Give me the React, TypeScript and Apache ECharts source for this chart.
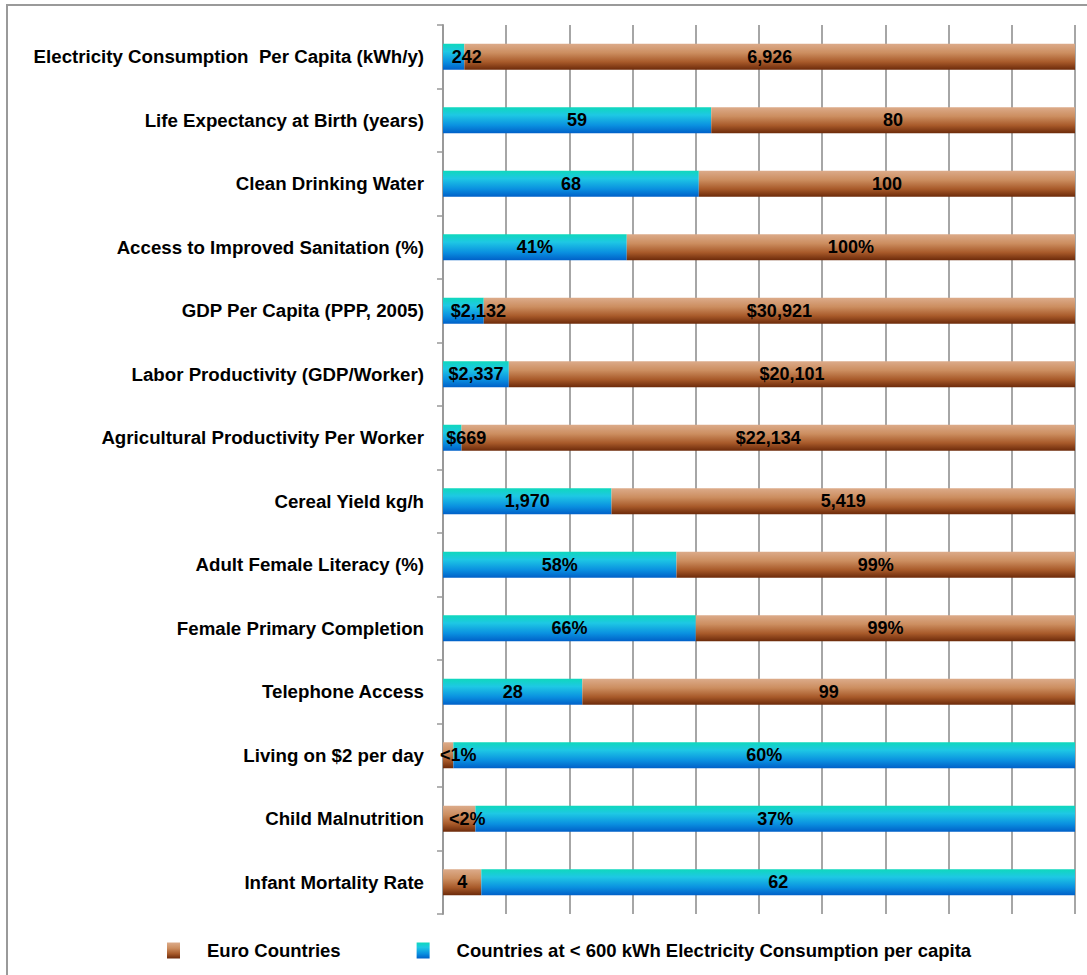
import React, { useEffect, useRef } from "react";
import * as echarts from "echarts";

const categories = [
  "Electricity Consumption  Per Capita (kWh/y)",
  "Life Expectancy at Birth (years)",
  "Clean Drinking Water",
  "Access to Improved Sanitation (%)",
  "GDP Per Capita (PPP, 2005)",
  "Labor Productivity (GDP/Worker)",
  "Agricultural Productivity Per Worker",
  "Cereal Yield kg/h",
  "Adult Female Literacy (%)",
  "Female Primary Completion",
  "Telephone Access",
  "Living on $2 per day",
  "Child Malnutrition",
  "Infant Mortality Rate",
];

// Countries at < 600 kWh electricity consumption per capita
const lowValues = [242, 59, 68, 41, 2132, 2337, 669, 1970, 58, 66, 28, 60, 37, 62];
const lowLabels = ["242", "59", "68", "41%", "$2,132", "$2,337", "$669", "1,970", "58%", "66%", "28", "60%", "37%", "62"];

// Euro countries
const euroValues = [6926, 80, 100, 100, 30921, 20101, 22134, 5419, 99, 99, 99, 1, 2, 4];
const euroLabels = ["6,926", "80", "100", "100%", "$30,921", "$20,101", "$22,134", "5,419", "99%", "99%", "99", "<1%", "<2%", "4"];

// rows where the Euro segment is drawn first (left)
const euroOnLeft = [false, false, false, false, false, false, false, false, false, false, false, true, true, true];

const lowName = "Countries at < 600 kWh Electricity Consumption per capita";
const euroName = "Euro Countries";

// horizontal label nudges (px) for labels in narrow segments
const lowLabelNudge: Record<number, number> = { 0: 13, 4: 15, 6: 14 };
const euroLabelNudge: Record<number, number> = { 11: 10, 12: 8 };

const FONT = "'Liberation Sans', Arial, sans-serif";

const blueGrad = () =>
  new echarts.graphic.LinearGradient(0, 0, 0, 1, [
    { offset: 0, color: "#0fd8bc" },
    { offset: 0.3, color: "#1ec8e4" },
    { offset: 0.7, color: "#0a90e0" },
    { offset: 1, color: "#0060c8" },
  ]);
const brownGrad = () =>
  new echarts.graphic.LinearGradient(0, 0, 0, 1, [
    { offset: 0, color: "#dcab8a" },
    { offset: 0.35, color: "#cc8e60" },
    { offset: 0.7, color: "#a85a2a" },
    { offset: 1, color: "#6c2a0a" },
  ]);

export default function App() {
  const ref = useRef<HTMLDivElement>(null);
  useEffect(() => {
    document.body.style.margin = "0";
    if (!ref.current) return;
    const chart = echarts.init(ref.current, null, { renderer: "svg" });

    const pct = (i: number, v: number) => (v / (lowValues[i] + euroValues[i])) * 100;
    const labelStyle = {
      show: true,
      position: "inside",
      color: "#000",
      fontFamily: FONT,
      fontWeight: "bold",
      fontSize: 18,
    };

    const euroLeftData = categories.map((_, i) =>
      euroOnLeft[i]
        ? {
            value: pct(i, euroValues[i]),
            label: { ...labelStyle, formatter: euroLabels[i], offset: [euroLabelNudge[i] || 0, 0] },
          }
        : { value: 0, label: { show: false } }
    );
    const lowData = categories.map((_, i) => ({
      value: pct(i, lowValues[i]),
      label: { ...labelStyle, formatter: lowLabels[i], offset: [lowLabelNudge[i] || 0, 0] },
    }));
    const euroRightData = categories.map((_, i) =>
      !euroOnLeft[i]
        ? {
            value: pct(i, euroValues[i]),
            label: { ...labelStyle, formatter: euroLabels[i], offset: [euroLabelNudge[i] || 0, 0] },
          }
        : { value: 0, label: { show: false } }
    );

    chart.setOption({
      animation: false,
      grid: { left: 443, right: 12, top: 25, bottom: 61, containLabel: false },
      graphic: [
        {
          type: "rect",
          shape: { x: 7, y: 5, width: 1200, height: 1200 },
          style: { fill: "none", stroke: "#9a9a9a", lineWidth: 2 },
          silent: true,
        },
      ],
      legend: {
        left: 162,
        top: 936,
        itemWidth: 13,
        itemHeight: 16,
        itemGap: 76,
        icon: "rect",
        data: [euroName, lowName],
        textStyle: {
          color: "#000",
          fontFamily: FONT,
          fontWeight: "bold",
          fontSize: 18.5,
          padding: [0, 0, 0, 22],
        },
      },
      xAxis: {
        type: "value",
        min: 0,
        max: 100,
        interval: 10,
        axisLine: { show: false },
        axisTick: { show: false },
        axisLabel: { show: false },
        splitLine: { show: true, lineStyle: { color: "#a6a6a6", width: 2 } },
      },
      yAxis: {
        type: "category",
        inverse: true,
        data: categories,
        axisLine: { show: true, lineStyle: { color: "#999", width: 2 } },
        axisTick: { show: true, length: 6, lineStyle: { color: "#999", width: 1.5 } },
        axisLabel: {
          color: "#000",
          fontFamily: FONT,
          fontWeight: "bold",
          fontSize: 18.7,
          margin: 19,
        },
      },
      series: [
        {
          name: euroName,
          type: "bar",
          stack: "total",
          barWidth: 26,
          itemStyle: { color: brownGrad() },
          data: euroLeftData,
        },
        {
          name: lowName,
          type: "bar",
          stack: "total",
          barWidth: 26,
          itemStyle: { color: blueGrad() },
          data: lowData,
        },
        {
          name: euroName,
          type: "bar",
          stack: "total",
          barWidth: 26,
          itemStyle: { color: brownGrad() },
          data: euroRightData,
        },
      ],
    });
    return () => chart.dispose();
  }, []);
  return <div ref={ref} style={{ width: 1087, height: 975 }} />;
}
